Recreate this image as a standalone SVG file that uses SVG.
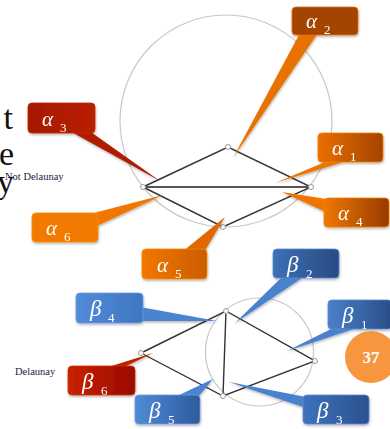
<svg xmlns="http://www.w3.org/2000/svg" width="390" height="429" viewBox="0 0 390 429">
<defs>
<style>
.big{font-family:"Liberation Serif",serif;font-size:34px;fill:#111}
.lbl{font-family:"Liberation Serif",serif;font-size:10.5px;fill:#1a1a3a}
.g{font-family:"Liberation Serif",serif;font-style:italic;fill:#fff}
.a{font-size:21px}
.b{font-size:23px}
.sub{font-family:"Liberation Serif",serif;font-size:13px;fill:#fff}
.edge{stroke:#333;stroke-width:1.4;fill:none}
.diag{stroke:#555;stroke-width:2.2;fill:none}
.cc{stroke:#c8c8c8;stroke-width:1.2;fill:none}
.v{stroke:#999;stroke-width:1;fill:#fff}
.box{stroke-width:0.8}
</style>
<filter id="sh" x="-20%" y="-20%" width="140%" height="150%"><feDropShadow dx="0.5" dy="1.5" stdDeviation="1" flood-color="#000" flood-opacity="0.3"/></filter>
<linearGradient id="gA1" x1="0" x2="1"><stop offset="0" stop-color="#e96f00"/><stop offset="1" stop-color="#a54300"/></linearGradient>
<linearGradient id="gA4" x1="0" x2="1"><stop offset="0" stop-color="#f07800"/><stop offset="1" stop-color="#973a00"/></linearGradient>
<linearGradient id="gA5" x1="0" x2="1"><stop offset="0" stop-color="#f17800"/><stop offset="1" stop-color="#cc5c00"/></linearGradient>
<linearGradient id="gA3" x1="0" x2="1"><stop offset="0" stop-color="#a51800"/><stop offset="1" stop-color="#b92000"/></linearGradient>
<linearGradient id="gB2" x1="0" x2="1"><stop offset="0" stop-color="#3d70b6"/><stop offset="1" stop-color="#284a82"/></linearGradient>
<linearGradient id="gB1" x1="0" x2="1"><stop offset="0" stop-color="#4a80c8"/><stop offset="1" stop-color="#294d88"/></linearGradient>
<linearGradient id="gB3" x1="0" x2="1"><stop offset="0" stop-color="#3f72ba"/><stop offset="1" stop-color="#2b5190"/></linearGradient>
<linearGradient id="gB4" x1="0" x2="1"><stop offset="0" stop-color="#528cd8"/><stop offset="1" stop-color="#3f76c2"/></linearGradient>
<linearGradient id="gB5" x1="0" x2="1"><stop offset="0" stop-color="#508ad6"/><stop offset="1" stop-color="#2e5b9c"/></linearGradient>
<linearGradient id="gB6" x1="0" x2="1"><stop offset="0" stop-color="#c82200"/><stop offset="1" stop-color="#980a00"/></linearGradient>
</defs>
<rect width="390" height="429" fill="#fff"/>

<g id="background-text">
<text class="big" x="13" y="129" text-anchor="end">t</text>
<text class="big" x="14" y="165" text-anchor="end">e</text>
<text class="big" x="14" y="193" text-anchor="end">y</text>
<text class="lbl" x="5" y="180">Not Delaunay</text>
<text class="lbl" x="15" y="375">Delaunay</text>
</g>

<g id="connectors">
<circle class="cc" cx="226" cy="121" r="106"/>
<circle class="cc" cx="259.5" cy="352" r="54"/>
<polyline class="edge" points="143,187 228,147 311,187 223,227 143,187"/>
<line class="diag" x1="143" y1="187" x2="311" y2="187"/>
<polyline class="edge" points="141,353 226,311 315,361 223,396 141,353"/>
<line class="edge" x1="226" y1="311" x2="223" y2="396" stroke-width="1.8"/>
</g>

<g id="vertices">
<circle class="v" cx="143" cy="187" r="2.5"/>
<circle class="v" cx="228" cy="147" r="2.5"/>
<circle class="v" cx="311" cy="187" r="2.5"/>
<circle class="v" cx="223" cy="227" r="2.5"/>
<circle class="v" cx="141" cy="353" r="2.5"/>
<circle class="v" cx="226" cy="311" r="2.5"/>
<circle class="v" cx="315" cy="361" r="2.5"/>
<circle class="v" cx="223" cy="396" r="2.5"/>
</g>

<g id="alpha2" filter="url(#sh)">
<polygon points="300,33 318,33 233,158" fill="#e87200"/>
<rect class="box" x="292" y="7" width="66" height="28" rx="4" fill="#a34500" stroke="#e87000"/>
<text class="g a" x="306" y="28">α</text><text class="sub" x="324" y="34">2</text>
</g>
<g id="alpha1" filter="url(#sh)">
<polygon points="330,160 350,160 275,183" fill="#ef7400"/>
<rect class="box" x="318" y="133" width="65" height="29" rx="4" fill="url(#gA1)" stroke="#f08000"/>
<text class="g a" x="332" y="155">α</text><text class="sub" x="350" y="161">1</text>
</g>
<g id="alpha4" filter="url(#sh)">
<polygon points="326,199 330,214 282,192" fill="#ef7400"/>
<rect class="box" x="324" y="198" width="65" height="29" rx="4" fill="url(#gA4)" stroke="#f08000"/>
<text class="g a" x="338" y="220">α</text><text class="sub" x="356" y="226">4</text>
</g>
<g id="alpha3" filter="url(#sh)">
<polygon points="68,130 88,130 160,181" fill="#b01c00"/>
<rect class="box" x="28" y="103" width="67" height="30" rx="4" fill="url(#gA3)" stroke="#c02800"/>
<text class="g a" x="42" y="126">α</text><text class="sub" x="60" y="132">3</text>
</g>
<g id="alpha6" filter="url(#sh)">
<polygon points="86,215 97,226 163,195" fill="#f07800"/>
<rect class="box" x="32" y="213" width="66" height="29" rx="4" fill="#f37a00" stroke="#f58a10"/>
<text class="g a" x="46" y="235">α</text><text class="sub" x="64" y="241">6</text>
</g>
<g id="alpha5" filter="url(#sh)">
<polygon points="182,252 204,252 225,217" fill="#e06800"/>
<rect class="box" x="142" y="249" width="65" height="30" rx="4" fill="url(#gA5)" stroke="#f58a10"/>
<text class="g a" x="157" y="272">α</text><text class="sub" x="175" y="278">5</text>
</g>

<g id="beta2" filter="url(#sh)">
<polygon points="283,276 305,276 235,323" fill="#4a82cc"/>
<rect class="box" x="273" y="249" width="66" height="29" rx="4" fill="url(#gB2)" stroke="#5a8ad0"/>
<text class="g b" x="287" y="272">β</text><text class="sub" x="306" y="278">2</text>
</g>
<g id="beta1" filter="url(#sh)">
<polygon points="335,327 360,327 287,351" fill="#4a82cc"/>
<rect class="box" x="328" y="300" width="64" height="29" rx="4" fill="url(#gB1)" stroke="#5a8ad0"/>
<text class="g b" x="342" y="323">β</text><text class="sub" x="361" y="329">1</text>
</g>
<g id="beta3" filter="url(#sh)">
<polygon points="306,397 306,408 229,382" fill="#4a82cc"/>
<rect class="box" x="303" y="395" width="66" height="29" rx="4" fill="url(#gB3)" stroke="#5a8ad0"/>
<text class="g b" x="317" y="418">β</text><text class="sub" x="336" y="424">3</text>
</g>
<g id="beta4" filter="url(#sh)">
<polygon points="140,307 140,321 217,321" fill="#4a84d0"/>
<rect class="box" x="76" y="293" width="67" height="30" rx="4" fill="url(#gB4)" stroke="#6a9ae0"/>
<text class="g b" x="90" y="316">β</text><text class="sub" x="108" y="322">4</text>
</g>
<g id="beta6" filter="url(#sh)">
<polygon points="105,368 122,368 153,353" fill="#c02000"/>
<rect class="box" x="68" y="366" width="67" height="29" rx="4" fill="url(#gB6)" stroke="#d03010"/>
<text class="g b" x="82" y="389">β</text><text class="sub" x="101" y="395">6</text>
</g>
<g id="beta5" filter="url(#sh)">
<polygon points="175,397 198,397 213,379" fill="#4a84d0"/>
<rect class="box" x="135" y="395" width="65" height="29" rx="4" fill="url(#gB5)" stroke="#6a9ae0"/>
<text class="g b" x="149" y="418">β</text><text class="sub" x="168" y="424">5</text>
</g>

<g id="badge">
<circle cx="371" cy="357" r="26" fill="#f7963f"/>
<text x="371" y="363" text-anchor="middle" font-family="Liberation Serif,serif" font-weight="bold" font-size="17" fill="#fff">37</text>
</g>
</svg>
